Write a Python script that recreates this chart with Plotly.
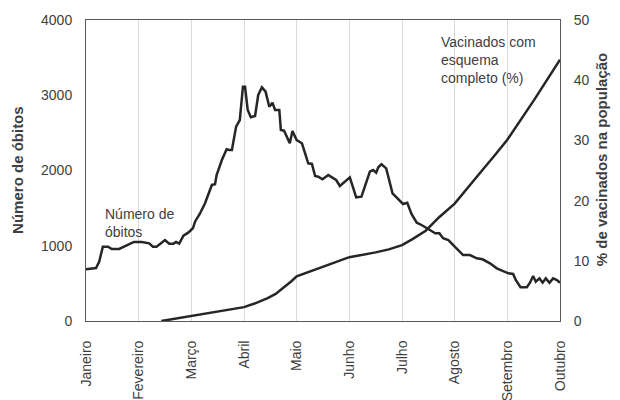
import plotly.graph_objects as go

meses = ["Janeiro", "Fevereiro", "Março", "Abril", "Maio", "Junho",
         "Julho", "Agosto", "Setembro", "Outubro"]

# time in month units (0 = início de janeiro)
obitos_t = [0.0, 0.19, 0.25, 0.32, 0.42, 0.49, 0.63, 0.77, 0.91, 1.06, 1.20, 1.27,
            1.34, 1.50, 1.58, 1.66, 1.71, 1.77, 1.85, 1.94, 2.03, 2.07, 2.16, 2.26,
            2.32, 2.39, 2.45, 2.48, 2.58, 2.67, 2.72, 2.77, 2.85, 2.92, 2.98, 3.02,
            3.07, 3.13, 3.21, 3.27, 3.34, 3.41, 3.48, 3.54, 3.59, 3.67, 3.70, 3.76,
            3.87, 3.92, 4.00, 4.10, 4.22, 4.29, 4.35, 4.41, 4.49, 4.60, 4.70, 4.75,
            4.82, 5.01, 5.13, 5.23, 5.39, 5.45, 5.51, 5.55, 5.61, 5.70, 5.82, 5.90,
            6.02, 6.10, 6.18, 6.28, 6.37, 6.53, 6.63, 6.71, 6.78, 6.88, 7.01, 7.16,
            7.29, 7.42, 7.53, 7.67, 7.80, 7.92, 8.02, 8.11, 8.16, 8.25, 8.37, 8.43,
            8.49, 8.54, 8.61, 8.67, 8.73, 8.80, 8.87, 8.94, 9.00]
obitos = [687, 704, 788, 988, 988, 957, 957, 1001, 1050, 1050, 1032, 988,
          988, 1076, 1028, 1028, 1050, 1028, 1134, 1174, 1232, 1320, 1422, 1564,
          1675, 1808, 1817, 1940, 2140, 2282, 2273, 2273, 2582, 2671, 3114, 3114,
          2804, 2707, 2724, 3004, 3106, 3048, 2848, 2901, 2804, 2804, 2538, 2529,
          2362, 2525, 2405, 2362, 2096, 2087, 1927, 1918, 1883, 1940, 1896, 1874,
          1794, 1909, 1644, 1652, 1984, 2007, 1971, 2043, 2083, 2029, 1697, 1644,
          1555, 1572, 1422, 1306, 1276, 1209, 1165, 1165, 1099, 1076, 988, 877,
          877, 833, 820, 767, 700, 669, 634, 625, 545, 448, 448, 509,
          598, 522, 567, 509, 567, 509, 567, 545, 509]

vacinados_t = [1.43, 2.0, 3.0, 3.2, 3.45, 3.6, 3.75, 3.9, 4.0, 4.5, 5.0, 5.5,
               5.75, 6.0, 6.2, 6.45, 6.7, 7.0, 7.3, 7.5, 7.75, 8.0, 8.5, 9.0]
vacinados = [0.0, 0.8, 2.3, 2.9, 3.8, 4.5, 5.5, 6.6, 7.4, 9.0, 10.6, 11.4,
             11.9, 12.6, 13.6, 15.0, 17.2, 19.5, 22.8, 24.8, 27.4, 30.1, 36.6, 43.4]

FONT = "Liberation Sans, Arial, sans-serif"
TXT = "#404040"
LINE = "#262626"

fig = go.Figure()
fig.add_trace(go.Scatter(x=obitos_t, y=obitos, mode="lines",
                         line=dict(color=LINE, width=2.5), yaxis="y", showlegend=False))
fig.add_trace(go.Scatter(x=vacinados_t, y=vacinados, mode="lines",
                         line=dict(color=LINE, width=2.5), yaxis="y2", showlegend=False))

fig.update_layout(
    width=612, height=392,
    margin=dict(l=78, r=60, t=12, b=79, autoexpand=False),
    plot_bgcolor="white", paper_bgcolor="white",
    font=dict(family=FONT, size=14, color=TXT),
    xaxis=dict(range=[0, 9], tickvals=list(range(10)), ticktext=meses,
               tickangle=-90, showgrid=True, gridcolor="#d9d9d9", gridwidth=1,
               showline=True, linecolor="#595959", linewidth=1, mirror=True,
               ticks="outside", ticklen=13, tickcolor="rgba(0,0,0,0)",
               zeroline=False, automargin=False, tickfont=dict(size=14, color=TXT)),
    yaxis=dict(range=[0, 4000], dtick=1000, showgrid=False, zeroline=False,
               showline=True, linecolor="#595959", linewidth=1, mirror=True,
               ticks="outside", ticklen=10, tickcolor="rgba(0,0,0,0)",
               automargin=False, tickfont=dict(size=14, color=TXT)),
    yaxis2=dict(range=[0, 50], dtick=10, overlaying="y", side="right",
                showgrid=False, zeroline=False, showline=False,
                ticks="outside", ticklen=10, tickcolor="rgba(0,0,0,0)",
                automargin=False, tickfont=dict(size=14, color=TXT)),
    annotations=[
        dict(text="<b>Número de óbitos</b>", x=-0.1435, y=0.502, xref="paper",
             yref="paper", textangle=-90, showarrow=False, xanchor="center",
             yanchor="middle", font=dict(size=15, color=TXT)),
        dict(text="<b>% de vacinados na população</b>", x=1.089, y=0.535,
             xref="paper", yref="paper", textangle=-90, showarrow=False,
             xanchor="center", yanchor="middle", font=dict(size=15, color=TXT)),
        dict(text="Número de<br>óbitos", x=0.33, y=1560, xref="x", yref="y",
             xanchor="left", yanchor="top", align="left", showarrow=False,
             font=dict(size=14, color=TXT)),
        dict(text="Vacinados com<br>esquema<br>completo (%)", x=6.70, y=48.0,
             xref="x", yref="y2", xanchor="left", yanchor="top", align="left",
             showarrow=False, font=dict(size=14, color=TXT)),
    ],
)

fig.write_html("out.html")
